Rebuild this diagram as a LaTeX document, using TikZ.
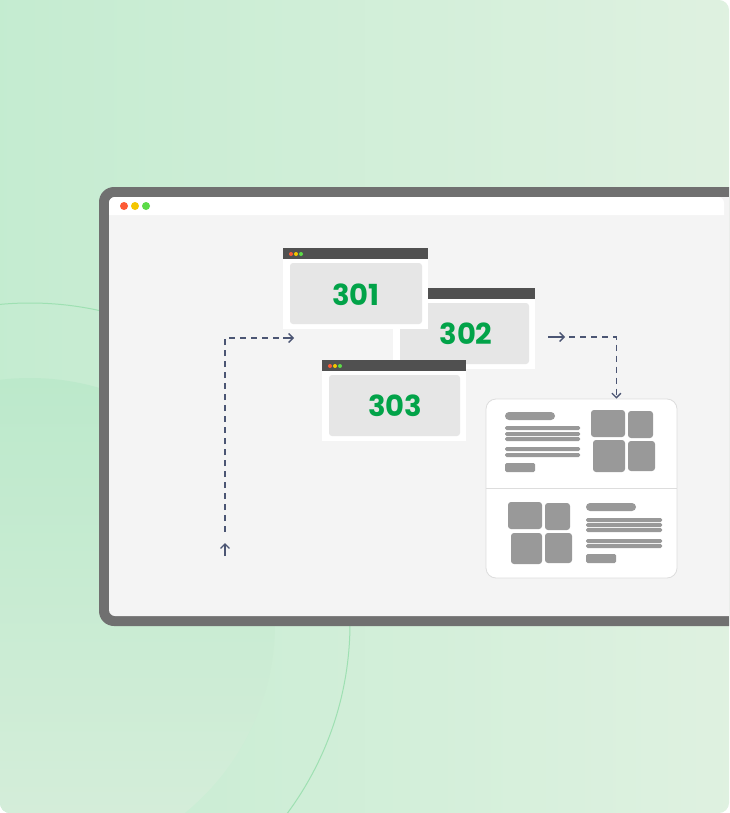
\documentclass[tikz,border=0pt]{standalone}
\usepackage{fontspec}
\newfontfamily\numfont{Poppins}
\usetikzlibrary{arrows.meta,calc}

\definecolor{bgA}{HTML}{BDEACC}
\definecolor{bgB}{HTML}{E6F3E5}
\definecolor{ringc}{HTML}{9EE0B2}
\definecolor{discA}{HTML}{BCE9CB}
\definecolor{discB}{HTML}{D7EEDB}
\definecolor{frameg}{HTML}{707070}
\definecolor{screen}{HTML}{F4F4F4}
\definecolor{barg}{HTML}{505050}
\definecolor{pane}{HTML}{E6E6E6}
\definecolor{codegreen}{HTML}{02A349}
\definecolor{block}{HTML}{999999}
\definecolor{cardline}{HTML}{DDDDDD}
\definecolor{arrowc}{HTML}{4B5573}
\definecolor{dotr}{HTML}{FD5A36}
\definecolor{doty}{HTML}{F4C600}
\definecolor{dotg}{HTML}{5CDB48}

\tikzset{
  flow/.style={arrowc, line width=1.3pt, dash pattern=on 6pt off 5pt},
  tip/.style={arrowc, line width=1.3pt, -{Straight Barb[length=4.5pt,width=9pt]}},
  code/.style={font=\numfont\bfseries\fontsize{29}{29}\selectfont, text=codegreen, inner sep=0pt},
  blk/.style={fill=block, rounded corners=3pt},
  bar/.style={fill=block, rounded corners=1.5pt},
}

% browser window: #1 left, #2 bar top, #3 right, #4 bottom
\newcommand\browserwin[4]{%
  \fill[barg] (#1,#2) rectangle (#3,#2+11);
  \fill[white] (#1,#2+11) rectangle (#3,#4);
  \fill[pane, rounded corners=3pt] (#1+7,#2+15) rectangle (#3-6,#4-5);
}
\newcommand\tinydots[2]{%
  \fill[dotr] (#1,#2) circle (2pt);
  \fill[doty] (#1+5,#2) circle (2pt);
  \fill[dotg] (#1+10,#2) circle (2pt);
}

\begin{document}
\begin{tikzpicture}[x=1pt,y=-1pt]
\useasboundingbox (0,0) rectangle (729,813);

% page background: square top-left corner, the other three rounded
\path[clip] (0,0) -- (700,0) [rounded corners=10pt] -- (729,0) -- (729,813) -- (0,813) -- (0,400) [sharp corners] -- cycle;
\shade[shading=axis, shading angle=-60, left color=bgA, right color=bgB] (-200,-200) rectangle (929,1013);
\shade[top color=discA, bottom color=discB] (30,623) circle (245);
\draw[ringc, line width=1pt] (30,623) circle (320);

% monitor frame and screen
\fill[frameg, rounded corners=15pt] (99,187) rectangle (780,626);
\fill[screen, rounded corners=6pt] (109,197) rectangle (790,616);
\fill[white] (109,203) [rounded corners=6pt] -- (109,197) -- (724,197) [sharp corners] -- (724,215) -- (109,215) -- cycle;
\fill[dotr] (124,206) circle (4pt);
\fill[doty] (135,206) circle (4pt);
\fill[dotg] (146,206) circle (4pt);

% stacked redirect windows
\browserwin{393}{288}{535}{369}
\node[code] (w302) at (466,334) {302};
\browserwin{283}{248}{428}{329}
\tinydots{291}{254}
\node[code] (w301) at (356,295) {301};
\browserwin{322}{360}{466}{441}
\tinydots{330}{366}
\node[code] (w303) at (395,406) {303};

% destination page card
\node[draw=cardline, fill=white, line width=0.8pt, rounded corners=10pt,
      minimum width=191pt, minimum height=179pt, inner sep=0pt] (card) at (581.5,488.5) {};
\draw[cardline, line width=1pt] (card.west) -- (card.east);

% upper section: text left, gallery right
\fill[bar, rounded corners=4pt] (505,412) rectangle (555,420);
\foreach \y in {428,434,439,449,455} \fill[bar] (505,\y-2) rectangle (580,\y+2);
\fill[bar] (505,463) rectangle (535,472);
\fill[blk] (591,410) rectangle (625,437);
\fill[blk] (628,411) rectangle (653,438);
\fill[blk] (593,440) rectangle (625,472);
\fill[blk] (628,441) rectangle (655,471);

% lower section: gallery left, text right
\fill[blk] (508,502) rectangle (542,529);
\fill[blk] (545,503) rectangle (570,530);
\fill[blk] (511,533) rectangle (542,564);
\fill[blk] (545,533) rectangle (572,563);
\fill[bar, rounded corners=4pt] (586,503) rectangle (636,511);
\foreach \y in {520,525,530,541,546} \fill[bar] (586,\y-2) rectangle (662,\y+2);
\fill[bar] (586,554) rectangle (616,563);

% redirect flow arrows
\coordinate (inA) at (225,556);
\coordinate (inB) at (225,543);
\coordinate (inC) at (225,532);
\coordinate (inD) at (283,338);
\draw[tip] (inA) -- (inB);
\draw[flow] (inC) |- (inD);
\draw[tip] (inD) -- ++(11,0);

\coordinate (outA) at (548,337);
\coordinate (outB) at (565,337);
\coordinate (outC) at ($(card.north east)+(-61,0)$);
\draw[tip] (outA) -- (outB);
\draw[flow, -{Straight Barb[length=4.5pt,width=9pt]}] (outB) ++(4,0) -| (outC);
\end{tikzpicture}
\end{document}
